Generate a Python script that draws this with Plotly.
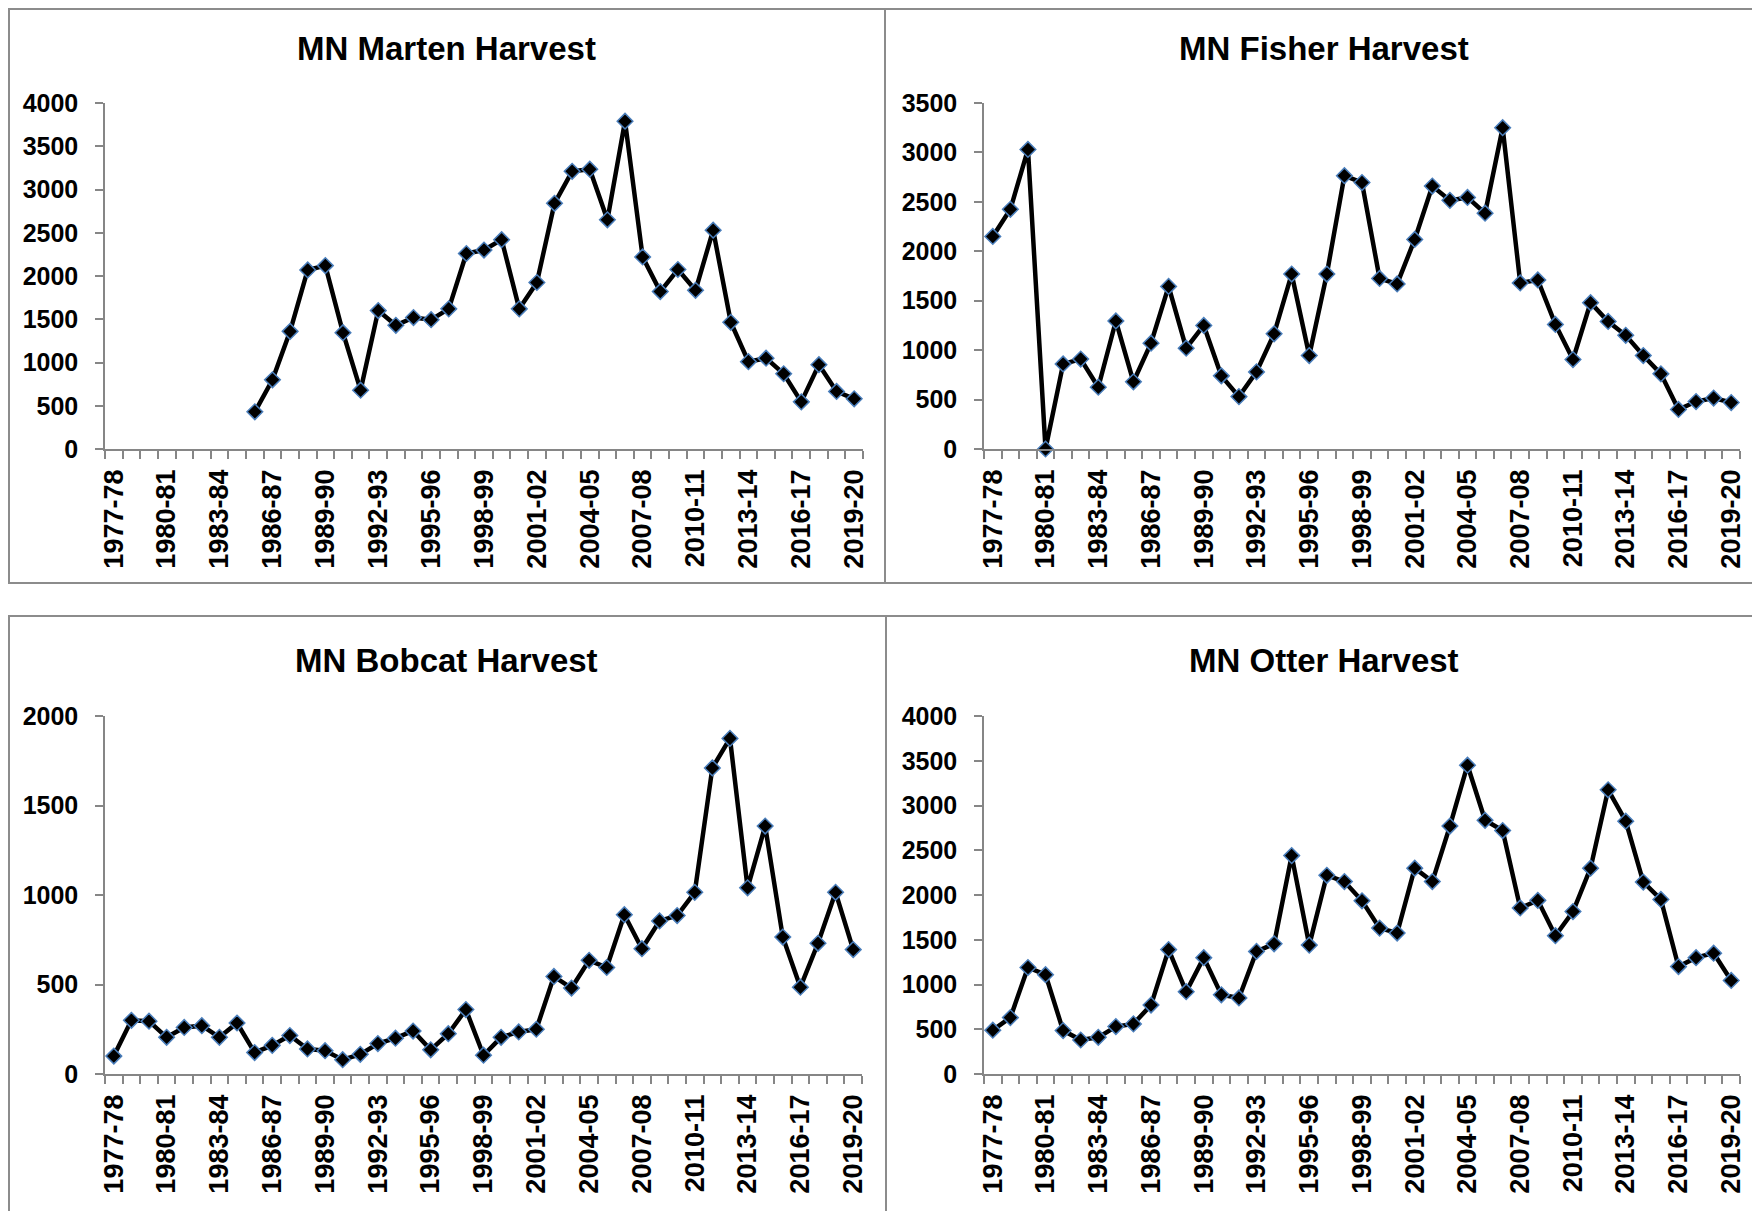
import plotly.graph_objects as go

# ---------------- data ----------------
seasons = ["1977-78", "1978-79", "1979-80", "1980-81", "1981-82", "1982-83", "1983-84",
           "1984-85", "1985-86", "1986-87", "1987-88", "1988-89", "1989-90", "1990-91",
           "1991-92", "1992-93", "1993-94", "1994-95", "1995-96", "1996-97", "1997-98",
           "1998-99", "1999-00", "2000-01", "2001-02", "2002-03", "2003-04", "2004-05",
           "2005-06", "2006-07", "2007-08", "2008-09", "2009-10", "2010-11", "2011-12",
           "2012-13", "2013-14", "2014-15", "2015-16", "2016-17", "2017-18", "2018-19",
           "2019-20"]

tick_labels = ["1977-78", "1980-81", "1983-84", "1986-87", "1989-90", "1992-93", "1995-96",
               "1998-99", "2001-02", "2004-05", "2007-08", "2010-11", "2013-14", "2016-17",
               "2019-20"]

marten = [None, None, None, None, None, None, None, None,
          430, 800, 1360, 2070, 2120, 1345, 680, 1600, 1430, 1520, 1495, 1620,
          2260, 2300, 2420, 1620, 1925, 2840, 3210, 3235, 2650, 3790, 2220, 1820,
          2075, 1835, 2530, 1465, 1010, 1050, 870, 545, 975, 665, 580]

fisher = [2150, 2425, 3030, 0, 860, 910, 625, 1295, 680, 1070, 1645, 1020, 1250, 740,
          530, 780, 1165, 1770, 945, 1770, 2765, 2695, 1725, 1670, 2120, 2660, 2515,
          2545, 2385, 3250, 1680, 1710, 1260, 905, 1480, 1290, 1150, 945, 760, 400,
          480, 515, 470]

bobcat = [100, 300, 295, 205, 260, 270, 205, 285, 120, 160, 215, 140, 130, 80, 110,
          170, 200, 240, 135, 225, 360, 105, 205, 235, 250, 545, 480, 635, 595, 890,
          700, 855, 885, 1015, 1710, 1875, 1040, 1385, 765, 485, 730, 1015, 695]

otter = [490, 630, 1190, 1110, 485, 380, 410, 530, 560, 770, 1390, 920, 1300, 885, 850,
         1370, 1455, 2440, 1440, 2220, 2150, 1935, 1630, 1575, 2300, 2150, 2770, 3450,
         2835, 2720, 1855, 1940, 1545, 1815, 2300, 3175, 2825, 2145, 1950, 1200, 1300,
         1350, 1045]

titles = ["MN Marten Harvest", "MN Fisher Harvest", "MN Bobcat Harvest", "MN Otter Harvest"]
series = [marten, fisher, bobcat, otter]
y_max = [4000, 3500, 2000, 4000]

# ---------------- layout ----------------
W, H = 1760, 1211
OFF = 8  # page body margin in the browser
AX = "#868686"
BORDER = "#8c8c8c"
FONT = "Liberation Sans"


def fx(px):
    return (px - OFF) / W


def fy(py):
    return 1 - (py - OFF) / H


# plot areas in page pixels: (left, right, top, bottom)
areas = [(105, 863, 103, 449), (984, 1740, 103, 449),
         (105, 862, 716, 1074), (984, 1740, 716, 1074)]
title_pos = [(446, 49), (1324, 49), (446, 661), (1324, 661)]
boxes = [(9, 885, 9, 583), (885, 1790, 9, 583), (9, 886, 616, 1250), (886, 1790, 616, 1250)]

ticktext = [s if s in tick_labels else "" for s in seasons]

fig = go.Figure()
layout = dict(width=W, height=H, autosize=False, margin=dict(l=0, r=0, t=0, b=0, pad=0),
              paper_bgcolor="white", plot_bgcolor="white", showlegend=False,
              annotations=[], shapes=[])

for i, (vals, ttl, ym) in enumerate(zip(series, titles, y_max)):
    n = "" if i == 0 else str(i + 1)
    fig.add_trace(go.Scatter(
        x=seasons, y=vals, mode="lines+markers", xaxis="x" + n, yaxis="y" + n,
        line=dict(color="black", width=4.5),
        marker=dict(symbol="diamond", size=12, color="black",
                    line=dict(color="#4a7ebb", width=1.5)),
        cliponaxis=False, hoverinfo="x+y"))
    l, r, t, b = areas[i]
    layout["xaxis" + n] = dict(
        domain=[fx(l), fx(r)], anchor="y" + n, type="category", automargin=False,
        categoryorder="array", categoryarray=seasons, range=[-0.5, len(seasons) - 0.5],
        tickmode="array", tickvals=seasons, ticktext=ticktext, tickson="boundaries",
        ticks="outside", ticklen=8, tickwidth=1.5, tickcolor=AX,
        showline=True, linecolor=AX, linewidth=1.5, showgrid=False, zeroline=False,
        tickangle=-90, ticklabelstandoff=8,
        tickfont=dict(family=FONT, size=27, color="black", weight="bold"))
    layout["yaxis" + n] = dict(
        domain=[fy(b), fy(t)], anchor="x" + n, range=[0, ym], automargin=False,
        tick0=0, dtick=500, ticks="outside", ticklen=8, tickwidth=1.5, tickcolor=AX,
        showline=True, linecolor=AX, linewidth=1.5, showgrid=False, zeroline=False,
        ticklabelstandoff=12,
        tickfont=dict(family=FONT, size=25, color="black", weight="bold"))
    tx, ty = title_pos[i]
    layout["annotations"].append(dict(
        text=ttl, x=fx(tx), y=fy(ty), xref="paper", yref="paper",
        xanchor="center", yanchor="middle", showarrow=False,
        font=dict(family=FONT, size=33, color="black", weight="bold")))
    x0, x1, y0, y1 = boxes[i]
    layout["shapes"].append(dict(
        type="rect", xref="paper", yref="paper", x0=fx(x0), x1=fx(x1),
        y0=fy(y1), y1=fy(y0), line=dict(color=BORDER, width=2),
        fillcolor="rgba(0,0,0,0)", layer="below"))

fig.update_layout(**layout)
fig.write_html("out.html")
